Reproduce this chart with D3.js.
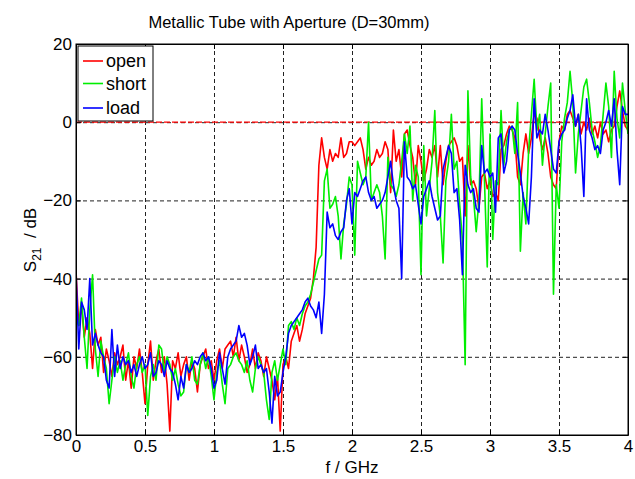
<!DOCTYPE html>
<html>
<head>
<meta charset="utf-8">
<script src="https://cdn.jsdelivr.net/npm/d3@7"></script>
<style>
  body { margin: 0; background: #fff; }
  text { font-family: "Liberation Sans", Arial, Helvetica, sans-serif; fill: #000; }
</style>
</head>
<body>
<div id="chart"></div>
<script>
// sampling of the frequency axis (GHz)
var freqs = d3.range(201).map(function(i) { return +(i * 0.02).toFixed(2); });

// S21 in dB, one value per 0.02 GHz
var openVals = [
  -38,-52,-47,-55,-50,-54,-63,-53,-57,-55,
  -64,-58,-61,-65,-59,-62,-60,-57,-66,-61,
  -68,-60,-63,-58,-64,-72,-62,-56,-66,-61,
  -58,-64,-60,-67,-79,-61,-63,-59,-65,-62,
  -60,-66,-61,-63,-69,-62,-60,-58,-63,-61,
  -66,-61,-58,-63,-58,-57,-56,-60,-55,-61,
  -57,-60,-64,-62,-58,-63,-59,-61,-65,-60,
  -63,-66,-71,-65,-79,-62,-60,-63,-56,-54,
  -52,-56,-53,-49,-47,-45,-40,-32,-11,-4,
  -9,-12,-7,-10,-8,-9,-4,-9,-8,-5,
  -5,-6,-5,-4,-7,-12,-9,-11,-10,-7,
  -9,-8,-5,-7,-18,-2,-10,-7,-14,-3,
  -2,-6,-9,-16,-6,-10,-15,-12,-7,-9,
  -6,-14,-6,-16,-10,-6,-5,-4,-6,-10,
  -9,-24,-6,-16,-15,-17,-22,-14,-13,-17,
  -15,-19,-18,-20,-7,-6,-3,-1,-2,-4,
  -14,-16,-8,-3,-8,-4,2,1,-4,-7,
  -4,-8,-14,-16,-17,-5,-1,-2,2,3,
  1,-1,2,-3,0,-2,1,-3,-1,-4,
  0,-3,-2,-5,-2,-1,4,8,3,-1,-2
];

var shortVals = [
  -50,-52,-45,-55,-63,-48,-39,-58,-65,-56,
  -60,-63,-72,-66,-60,-64,-61,-66,-62,-59,
  -65,-68,-62,-60,-64,-62,-75,-65,-62,-66,
  -57,-58,-64,-60,-62,-66,-63,-67,-70,-69,
  -62,-64,-60,-66,-67,-62,-59,-63,-60,-65,
  -71,-64,-61,-67,-72,-63,-62,-60,-59,-61,
  -62,-64,-61,-66,-69,-63,-60,-62,-64,-71,
  -76,-64,-61,-66,-62,-58,-62,-52,-51,-53,
  -50,-52,-49,-47,-46,-44,-41,-38,-35,-34,
  -15,-12,-22,-21,-19,-24,-35,-26,-21,-14,
  -16,-34,-10,-13,-16,-14,0,-20,-18,-16,
  -18,-24,-35,-9,-16,-17,-19,-16,-10,-3,
  -8,-1,-20,-11,-14,-39,-6,-24,-17,-10,
  3,-18,-24,-36,-15,-10,2,-12,-10,-21,
  -30,-62,8,-14,-19,-28,-20,6,-15,-37,
  -3,-30,-15,-16,3,-11,-5,-2,-1,-8,
  5,-33,-18,-26,-7,2,11,-2,2,-11,
  -3,4,10,-44,-16,-22,-5,1,5,13,
  5,-13,-3,3,9,11,5,-2,-5,-9,
  -6,2,10,4,-9,13,1,-4,10,3,-3
];

var loadVals = [
  -38,-58,-46,-48,-53,-40,-57,-54,-57,-59,
  -60,-66,-68,-53,-65,-57,-63,-60,-62,-61,
  -64,-62,-65,-62,-60,-63,-62,-59,-65,-64,
  -61,-62,-65,-61,-63,-64,-67,-71,-65,-68,
  -62,-64,-63,-61,-62,-60,-59,-61,-60,-63,
  -68,-66,-59,-63,-67,-60,-58,-57,-56,-52,
  -55,-54,-57,-62,-60,-57,-63,-62,-64,-63,
  -69,-77,-65,-70,-69,-64,-60,-54,-52,-51,
  -50,-49,-48,-46,-45,-47,-48,-50,-46,-54,
  -44,-23,-27,-26,-29,-30,-28,-27,-20,-17,
  -26,-18,-19,-17,-15,-14,-18,-20,-19,-22,
  -21,-20,-18,-14,-10,-16,-20,-22,-40,-5,
  -14,-15,-17,-16,-21,-26,-19,-17,-15,-19,
  -22,-25,-24,-12,-9,-6,-8,-18,-17,-25,
  -39,-11,-16,-18,-17,-22,-23,-6,-13,-12,
  -14,-13,-23,-4,-3,-13,-10,-2,-1,-2,
  -8,-13,-19,-22,-26,-14,6,-4,-2,-3,
  2,-2,-7,-12,-13,-5,-3,-2,1,3,
  7,-1,2,-6,-19,6,-2,-4,-7,-6,
  -8,-2,0,3,-1,6,-7,-16,4,2,2
];

var seriesNames = ["open", "short", "load"];
var seriesColors = ["#ff0000", "#00ee00", "#0000ff"];
var xTicks = [0, 0.5, 1, 1.5, 2, 2.5, 3, 3.5, 4];
var yTicks = [-80, -60, -40, -20, 0, 20];

var svgWidth = 635;
var svgHeight = 479;
var margin = { top: 44, right: 7, bottom: 44, left: 76 };
var width = svgWidth - margin.left - margin.right;
var height = svgHeight - margin.top - margin.bottom;

var svg = d3.select("#chart")
  .append("svg")
  .attr("width", svgWidth)
  .attr("height", svgHeight);

var chartGroup = svg.append("g")
  .attr("transform", `translate(${margin.left}, ${margin.top})`);

var xScale = d3.scaleLinear().domain([0, 4]).range([0, width]);
var yScale = d3.scaleLinear().domain([-80, 20]).range([height, 0]);

svg.append("defs").append("clipPath").attr("id", "plotClip")
  .append("rect").attr("width", width).attr("height", height);

// dashed grid
chartGroup.append("g")
  .call(d3.axisBottom(xScale).tickValues(xTicks).tickSize(height).tickFormat(""))
  .call(g => g.select(".domain").remove())
  .selectAll("line")
  .attr("stroke", "#222").attr("stroke-dasharray", "4,3");

chartGroup.append("g")
  .call(d3.axisLeft(yScale).tickValues(yTicks).tickSize(-width).tickFormat(""))
  .call(g => g.select(".domain").remove())
  .selectAll("line")
  .attr("stroke", "#222").attr("stroke-dasharray", "4,3");

// red dashed reference at 0 dB
chartGroup.append("line")
  .attr("x1", xScale(0)).attr("x2", xScale(4))
  .attr("y1", yScale(0)).attr("y2", yScale(0))
  .attr("stroke", "#ff0000").attr("stroke-width", 1.3)
  .attr("stroke-dasharray", "6,2");

// curves
var line = d3.line()
  .x((d, i) => xScale(freqs[i]))
  .y(d => yScale(d));

var allSeries = [openVals, shortVals, loadVals];
chartGroup.append("g").attr("clip-path", "url(#plotClip)")
  .selectAll("path")
  .data(allSeries)
  .enter()
  .append("path")
  .attr("d", d => line(d))
  .attr("fill", "none")
  .attr("stroke", (d, i) => seriesColors[i])
  .attr("stroke-width", 1.6)
  .attr("stroke-linejoin", "round");

// axes with inward ticks on all four sides
var tickLen = 5;
chartGroup.append("g")
  .attr("transform", `translate(0, ${height})`)
  .call(d3.axisBottom(xScale).tickValues(xTicks).tickSizeInner(-tickLen).tickSizeOuter(0).tickPadding(5).tickFormat(d3.format("")))
  .call(g => g.selectAll("text").attr("font-size", 17).attr("font-family", null))
  .call(g => g.selectAll("line,path").attr("stroke", "#000"));

chartGroup.append("g")
  .call(d3.axisLeft(yScale).tickValues(yTicks).tickSizeInner(-tickLen).tickSizeOuter(0).tickPadding(4))
  .call(g => g.selectAll("text").attr("font-size", 17).attr("font-family", null))
  .call(g => g.selectAll("line,path").attr("stroke", "#000"));

chartGroup.append("g")
  .call(d3.axisTop(xScale).tickValues(xTicks).tickSizeInner(-tickLen).tickSizeOuter(0).tickFormat(""))
  .call(g => g.selectAll("line,path").attr("stroke", "#000"));

chartGroup.append("g")
  .attr("transform", `translate(${width}, 0)`)
  .call(d3.axisRight(yScale).tickValues(yTicks).tickSizeInner(-tickLen).tickSizeOuter(0).tickFormat(""))
  .call(g => g.selectAll("line,path").attr("stroke", "#000"));

// box
chartGroup.append("rect")
  .attr("width", width).attr("height", height)
  .attr("fill", "none").attr("stroke", "#000").attr("stroke-width", 1);

// title and axis labels
svg.append("text")
  .attr("x", 289).attr("y", 28)
  .attr("text-anchor", "middle")
  .attr("font-size", 16.5)
  .text("Metallic Tube with Aperture (D=30mm)");

chartGroup.append("text")
  .attr("x", width / 2).attr("y", height + 38)
  .attr("text-anchor", "middle")
  .attr("font-size", 17)
  .text("f / GHz");

var yLabel = svg.append("text")
  .attr("transform", `translate(36, 240) rotate(-90)`)
  .attr("text-anchor", "middle")
  .attr("font-size", 17);
yLabel.append("tspan").text("S");
yLabel.append("tspan").attr("font-size", 12).attr("dy", 5).text("21");
yLabel.append("tspan").attr("dy", -5).text("\u00a0 / dB");

// legend
var legend = svg.append("g").attr("transform", "translate(78, 46)");
legend.append("rect")
  .attr("width", 75).attr("height", 75)
  .attr("fill", "#fff").attr("stroke", "#000");

var rowY = [15, 37.5, 62];
var legendRows = legend.selectAll(".row")
  .data(seriesNames)
  .enter()
  .append("g")
  .attr("transform", (d, i) => `translate(0, ${rowY[i]})`);

legendRows.append("line")
  .attr("x1", 5).attr("x2", 25)
  .attr("stroke", (d, i) => seriesColors[i])
  .attr("stroke-width", 1.6);

legendRows.append("text")
  .attr("x", 28).attr("dy", "0.35em")
  .attr("font-size", 18)
  .text(d => d);
</script>
</body>
</html>
